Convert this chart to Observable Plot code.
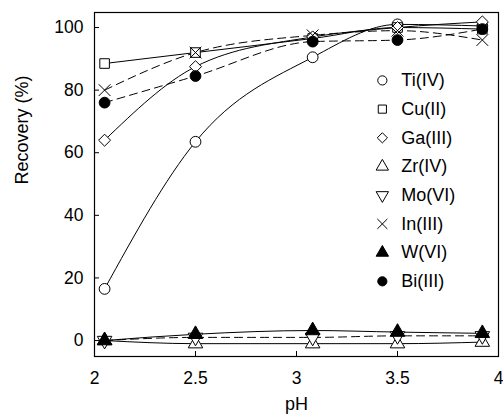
<!DOCTYPE html>
<html>
<head>
<meta charset="utf-8">
<script src="https://cdn.jsdelivr.net/npm/d3@7"></script>
<script src="https://cdn.jsdelivr.net/npm/@observablehq/plot@0.6"></script>
<style>
  html, body { margin: 0; padding: 0; background: #fff; }
  svg { display: block; font-family: "Liberation Sans", Arial, sans-serif; }
</style>
</head>
<body>
<div id="chart"></div>
<script>
// ---- data ----
const pH = [2.05, 2.5, 3.08, 3.5, 3.92];
const names = ["Ti(IV)", "Cu(II)", "Ga(III)", "Zr(IV)", "Mo(VI)", "In(III)", "W(VI)", "Bi(III)"];
const tiValues = [16.5, 63.5, 90.5, 101, 100.5];
const cuValues = [88.5, 92, 96.5, 100, 99.5];
const gaValues = [64, 87.5, 97, 100, 101.8];
const zrValues = [0, -1, -1, -1, -0.5];
const moValues = [0, 1, 1, 1.5, 1.5];
const inValues = [80, 92, 97.5, 99, 96];
const wValues = [0, 2, 3.2, 2.7, 2.3];
const biValues = [76, 84.5, 95.5, 96, 99.5];
const xTicks = [2, 2.5, 3, 3.5, 4];
const yTicks = [0, 20, 40, 60, 80, 100];

// custom downward triangle
const triangleDown = {
  draw(context, size) {
    const y = -Math.sqrt(size / (Math.sqrt(3) * 3));
    context.moveTo(0, -y * 2);
    context.lineTo(-Math.sqrt(3) * y, y);
    context.lineTo(Math.sqrt(3) * y, y);
    context.closePath();
  }
};

const styles = [
  {values: tiValues, symbol: "circle", fill: "white", dash: null},
  {values: cuValues, symbol: "square", fill: "white", dash: null},
  {values: gaValues, symbol: "diamond2", fill: "white", dash: null},
  {values: zrValues, symbol: "triangle", fill: "white", dash: null},
  {values: moValues, symbol: triangleDown, fill: "white", dash: "8,5"},
  {values: inValues, symbol: "times", fill: "none", dash: "8,5"},
  {values: wValues, symbol: "triangle", fill: "black", dash: null},
  {values: biValues, symbol: "circle", fill: "black", dash: "8,5"}
];

const series = names.map((name, i) => ({
  name,
  ...styles[i],
  points: pH.map((x, j) => ({x, y: styles[i].values[j]}))
}));

// legend layout (in data units)
const legendX = 3.425;
const legendTop = 83.1;
const legendStep = 9.17;

const marks = [Plot.frame({stroke: "black", strokeWidth: 1.2})];

for (const s of series) {
  marks.push(Plot.line(s.points, {
    x: "x", y: "y", curve: "monotone-x",
    stroke: "black", strokeWidth: 1, strokeDasharray: s.dash
  }));
}
for (const s of series) {
  marks.push(Plot.dot(s.points, {
    x: "x", y: "y", symbol: s.symbol, r: 5.4,
    fill: s.fill, stroke: "black", strokeWidth: 1
  }));
}
series.forEach((s, i) => {
  const row = [{x: legendX, y: legendTop - i * legendStep, name: s.name}];
  marks.push(Plot.dot(row, {
    x: "x", y: "y", symbol: s.symbol, r: 4.6,
    fill: s.fill, stroke: "black", strokeWidth: 1
  }));
  marks.push(Plot.text(row, {
    x: "x", y: "y", text: "name", dx: 19, textAnchor: "start",
    fontSize: 18, fill: "black"
  }));
});

marks.push(Plot.axisX({ticks: xTicks, tickSize: -5, tickPadding: 20, fontSize: 17.5, label: null, tickFormat: d => String(d)}));
marks.push(Plot.axisY({ticks: yTicks, tickSize: -5, tickPadding: 16, fontSize: 17.5, label: null}));
marks.push(Plot.text(["Recovery (%)"], {frameAnchor: "left", dx: -72, rotate: -90, text: d => d, fontSize: 18, fill: "black"}));
marks.push(Plot.text(["pH"], {frameAnchor: "bottom", dy: 53, text: d => d, fontSize: 18, fill: "black"}));

const chart = Plot.plot({
  width: 503,
  height: 416,
  marginLeft: 94,
  marginRight: 5,
  marginTop: 12,
  marginBottom: 60,
  x: {domain: [2, 4]},
  y: {domain: [-5.1, 104.8]},
  style: {fontFamily: "Liberation Sans, Arial, sans-serif", color: "black", background: "white"},
  marks
});
document.getElementById("chart").appendChild(chart);
</script>
</body>
</html>
